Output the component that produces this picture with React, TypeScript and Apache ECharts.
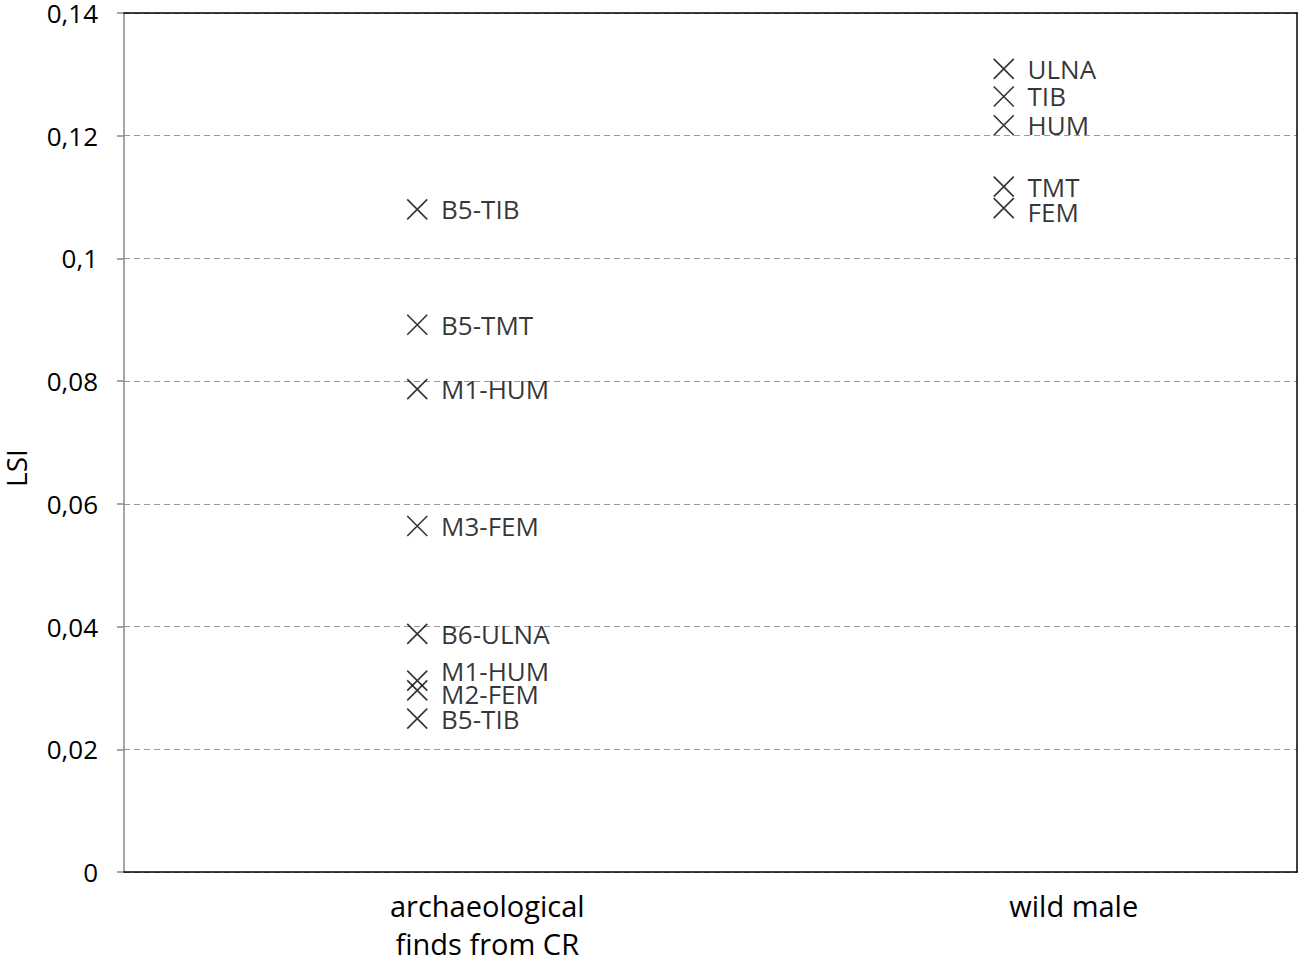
import React, { useEffect, useRef } from "react";
import * as echarts from "echarts";

const categories = ["archaeological\nfinds from CR", "wild male"];
const archLabels = ["B5-TIB", "B5-TMT", "M1-HUM", "M3-FEM", "B6-ULNA", "M1-HUM", "M2-FEM", "B5-TIB"];
const archValues = [0.108, 0.0892, 0.0787, 0.0564, 0.0388, 0.0312, 0.0296, 0.025];
const wildLabels = ["ULNA", "TIB", "HUM", "TMT", "FEM"];
const wildValues = [0.1309, 0.1264, 0.1217, 0.1117, 0.1082];
const yTicks = [0, 0.02, 0.04, 0.06, 0.08, 0.1, 0.12, 0.14];

// label nudges for overlapping points (style only)
const archNudge: Record<number, number> = { 5: -10, 6: 4 };
const wildNudge: Record<number, number> = { 4: 4 };

const FONT = "Open Sans";
const FS = 26;
const XFS = 29;
const XMARK = "path://M0,0L20,20M20,0L0,20";

function buildData(cat: string, labels: string[], values: number[], nudge: Record<number, number>) {
  return values.map((v, i) => ({
    value: [cat, v],
    name: labels[i],
    label: { offset: [0, nudge[i] || 0] },
  }));
}

export default function App() {
  const ref = useRef<HTMLDivElement>(null);
  useEffect(() => {
    const chart = echarts.init(ref.current!, null, { renderer: "svg" });
    const seriesCommon = {
      type: "scatter",
      symbol: XMARK,
      symbolSize: 20,
      z: 6,
      itemStyle: { color: "transparent", borderColor: "#000", borderWidth: 1.6 },
      label: {
        show: true,
        position: "right",
        distance: 13,
        formatter: (p: any) => p.name,
        color: "#000",
        fontFamily: FONT,
        fontSize: FS,
        lineHeight: 19,
      },
      emphasis: { disabled: true },
    };
    chart.setOption({
      animation: false,
      backgroundColor: "#fff",
      grid: { left: 124, right: 3, top: 13, bottom: 88 },
      xAxis: [
        {
          type: "category",
          data: categories,
          boundaryGap: true,
          z: 5,
          axisLine: { onZero: false, lineStyle: { color: "#000", width: 1.5 } },
          axisTick: { show: false },
          splitLine: { show: false },
          axisLabel: {
            color: "#000",
            fontFamily: FONT,
            fontSize: XFS,
            lineHeight: 38,
            margin: 14,
            padding: [0, 0, 0, 140],
          },
        },
        {
          type: "category",
          data: categories,
          position: "top",
          z: 5,
          axisLine: { show: true, onZero: false, lineStyle: { color: "#000", width: 1.5 } },
          axisTick: { show: false },
          axisLabel: { show: false },
          splitLine: { show: false },
        },
      ],
      yAxis: [
        {
          type: "value",
          min: yTicks[0],
          max: yTicks[yTicks.length - 1],
          interval: 0.02,
          z: 1,
          axisLine: { show: true, onZero: false, lineStyle: { color: "#888", width: 1.5 } },
          axisTick: { show: true, length: 7, lineStyle: { color: "#888", width: 1.5 } },
          splitLine: { show: true, lineStyle: { color: "#999", type: [6, 4], width: 1.2 } },
          axisLabel: {
            color: "#000",
            fontFamily: FONT,
            fontSize: FS,
            lineHeight: 20,
            margin: 26,
            formatter: (v: number) => String(+v.toFixed(2)).replace(".", ","),
          },
        },
        {
          type: "value",
          position: "right",
          min: yTicks[0],
          max: yTicks[yTicks.length - 1],
          interval: 0.02,
          z: 5,
          axisLine: { show: true, onZero: false, lineStyle: { color: "#000", width: 1.5 } },
          axisTick: { show: false },
          axisLabel: { show: false },
          splitLine: { show: false },
        },
      ],
      graphic: [
        {
          type: "text",
          x: 16,
          y: 468,
          rotation: Math.PI / 2,
          style: {
            text: "LSI",
            fill: "#000",
            font: `28px "${FONT}"`,
            lineHeight: 22,
            textAlign: "center",
            textVerticalAlign: "middle",
          },
        },
      ],
      series: [
        { ...seriesCommon, name: "arch", data: buildData(categories[0], archLabels, archValues, archNudge) },
        { ...seriesCommon, name: "wild", data: buildData(categories[1], wildLabels, wildValues, wildNudge) },
      ],
    });
    return () => chart.dispose();
  }, []);
  return (
    <div
      ref={ref}
      style={{ position: "fixed", left: 0, top: 0, width: 1300, height: 962, background: "#fff" }}
    />
  );
}
